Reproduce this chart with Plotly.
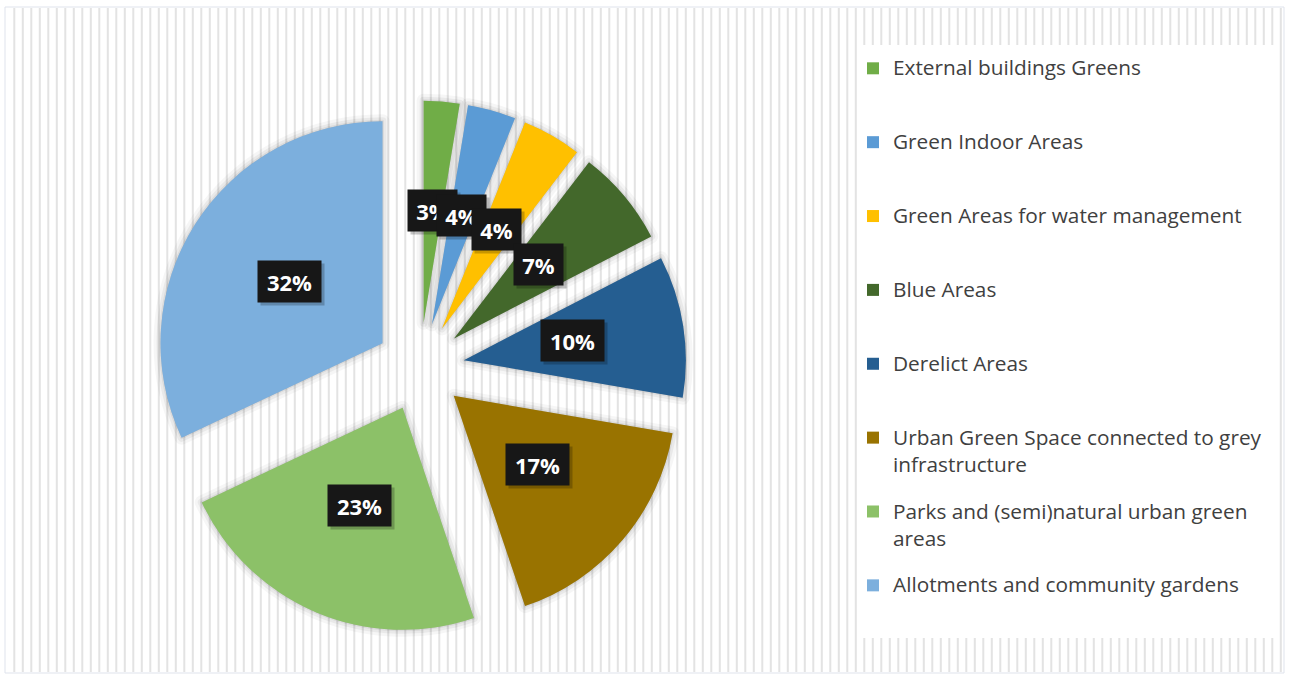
import math
import plotly.graph_objects as go

# ---------------- data ----------------
categories = [
    "External buildings Greens",
    "Green Indoor Areas",
    "Green Areas for water management",
    "Blue Areas",
    "Derelict Areas",
    "Urban Green Space connected to grey infrastructure",
    "Parks and (semi)natural urban green areas",
    "Allotments and community gardens",
]
legend_text = [
    "External buildings Greens",
    "Green Indoor Areas",
    "Green Areas for water management",
    "Blue Areas",
    "Derelict Areas",
    "Urban Green Space connected to grey<br>infrastructure",
    "Parks and (semi)natural urban green<br>areas",
    "Allotments and community gardens",
]
values = [2.6, 3.5, 4.3, 7.0, 10.3, 17.1, 23.2, 32.0]
colors = ["#70AD47", "#5B9BD5", "#FFC000", "#43682B",
          "#255E91", "#997300", "#8CC168", "#7CAFDD"]

# ---------------- layout constants ----------------
W, H = 1290, 675
dom_x = [0.11907, 0.53209]
dom_y = [0.06163, 0.85096]
pull = 0.2
LEG_SLOT_FONT = 18.17   # sets the legend line height (slot spacing)
LEG_TEXT_PX = 20.8      # visible legend text size
LABEL_YSHIFT = 3


def fmt_legend(t, n=3):
    lines = t.split("<br>")
    out = []
    for i, ln in enumerate(lines):
        st = f"font-size:{LEG_TEXT_PX}px"
        if i > 0:
            st += ";baseline-shift:-4.4px"
        out.append(f'<span style="{st}">{ln}</span>')
    out += [" "] * (n - len(out))
    return "<br>".join(out)


labels_disp = [fmt_legend(t) for t in legend_text]

fig = go.Figure()

# soft shadow under the slices
for lw, alpha in [(14, 0.035), (8, 0.05), (3, 0.06)]:
    fig.add_trace(go.Pie(
        labels=categories,
        values=values,
        sort=False,
        direction="clockwise",
        rotation=0,
        pull=pull,
        marker=dict(colors=[f"rgba(0,0,0,{alpha})"] * len(values),
                    line=dict(width=lw, color=f"rgba(0,0,0,{alpha})")),
        textinfo="none",
        hoverinfo="skip",
        domain=dict(x=dom_x, y=dom_y),
        showlegend=False,
    ))

fig.add_trace(go.Pie(
    labels=labels_disp,
    values=values,
    sort=False,
    direction="clockwise",
    rotation=0,
    pull=pull,
    marker=dict(colors=colors, line=dict(width=0)),
    textinfo="none",
    hoverinfo="skip",
    domain=dict(x=dom_x, y=dom_y),
    showlegend=True,
))

# ---------------- data labels (black boxes) ----------------
availW = W * (dom_x[1] - dom_x[0])
availH = H * (dom_y[1] - dom_y[0])
r = min(availW, availH) / (2 + 2 * pull)
cx = W * (dom_x[0] + dom_x[1]) / 2
cy = H * (1 - dom_y[0]) - availH / 2

total = sum(values)
annotations = []
cum = 0.0
for v in values:
    mid = (cum + v / 2) / total * 2 * math.pi
    cum += v
    ux, uy = math.sin(mid), -math.cos(mid)
    dist = (pull + 0.495) * r
    px, py = cx + dist * ux, cy + dist * uy
    pct = math.floor(round(v / total * 100, 6) + 0.5)
    txt = f"{pct}%"
    bw = 21 + 14 * len(txt)
    common = dict(x=px / W, y=1 - py / H, xref="paper", yref="paper",
                  showarrow=False, xanchor="center", yanchor="middle",
                  width=bw, height=41, borderpad=0)
    annotations.append(dict(common, text="\u00a0", xshift=3, yshift=LABEL_YSHIFT - 3,
                            bgcolor="rgba(0,0,0,0.22)",
                            font=dict(family="Open Sans", size=22, color="rgba(0,0,0,0)")))
    annotations.append(dict(common, text=txt, bgcolor="#171717", yshift=LABEL_YSHIFT,
                            font=dict(family="Open Sans", size=22, color="white", weight="bold")))

# ---------------- background decoration ----------------
shapes = []
shapes.append(dict(type="rect", xref="paper", yref="paper",
                   x0=5 / W, x1=1284 / W, y0=1 - 673 / H, y1=1 - 7 / H,
                   line=dict(color="#dfe3ec", width=1), fillcolor="white", layer="below"))
x = 14.3
while x < 1283:
    shapes.append(dict(type="line", xref="paper", yref="paper",
                       x0=x / W, x1=x / W, y0=1 - 672 / H, y1=1 - 8 / H,
                       line=dict(color="#e3e3e3", width=2), layer="below"))
    x += 8.5
shapes.append(dict(type="rect", xref="paper", yref="paper",
                   x0=858 / W, x1=1275 / W, y0=1 - 638 / H, y1=1 - 45 / H,
                   line=dict(width=0), fillcolor="white", layer="below"))

fig.update_layout(
    width=W, height=H,
    margin=dict(l=0, r=0, t=0, b=0),
    paper_bgcolor="white",
    plot_bgcolor="white",
    shapes=shapes,
    annotations=annotations,
    legend=dict(
        x=853 / W, y=1 - 50 / H, xanchor="left", yanchor="top",
        valign="top", bgcolor="rgba(0,0,0,0)",
        font=dict(family="Open Sans", size=LEG_SLOT_FONT, color="#404040"),
    ),
)

fig.write_html("out.html")
